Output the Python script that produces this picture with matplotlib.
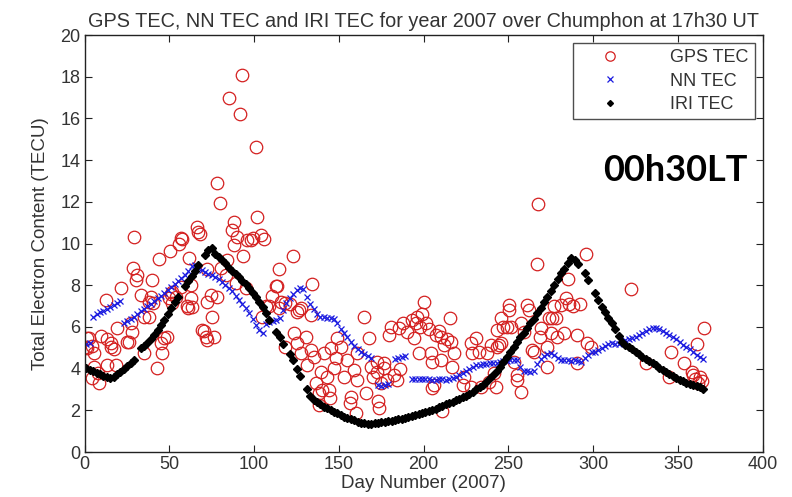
import numpy as np
import matplotlib
matplotlib.use("Agg")
import matplotlib.pyplot as plt

nan = np.nan

# GPS TEC (scattered daily values)
gps_day = [1.6, 0.6, 1.6, 2.6, 4.0, 5.5, 5.5, 4.5, 7.9, 8.5, 9.4, 12.4, 13.4, 13.4, 15.3, 15.3,
           17.3, 18.3, 19.3, 21.6, 25.2, 26.2, 27.1, 28.1, 28.5, 29.1, 30.1, 31.1,
           33.0, 35.0, 37.9, 37.9, 38.9, 39.9, 40.0, 42.9, 43.9, 44.8, 45.8, 46.8, 48.8,
           49.8, 50.3, 51.7, 51.7, 53.7, 55.7, 56.6, 56.6, 57.6, 35.0, 50.7, 60.6, 61.0,
           61.5, 62.5, 62.6, 63.5, 66.5, 66.9, 67.8, 69.4, 70.4, 71.4, 71.9, 72.4, 72.4,
           74.3, 75.3, 76.3, 77.9, 78.3, 79.8, 80.3, 83.2, 84.2, 86.7, 85.2, 88.1, 88.1,
           89.1, 90.1, 91.7, 92.6, 93.6, 95.0, 95.8, 97.9, 99.3, 100.9,
           101.9, 103.8, 105.8, 104.8, 106.8, 110.5, 112.7, 113.4, 114.6, 114.6, 118.3,
           118.4, 123.1, 123.5, 125.5, 125.5, 126.3, 127.4, 127.4, 130.4, 131.4, 133.3,
           133.6, 134.3, 135.2, 109.0, 116.0, 121.0,
           136.3, 138.5, 138.5, 139.2, 140.2, 141.2, 143.2, 144.2, 144.5, 145.1, 147.1,
           148.0, 149.0, 151.0, 153.0, 154.9, 156.4, 157.0, 158.9, 160.3, 160.8, 160.8,
           164.8, 165.7, 167.8, 168.7, 172.6, 172.6, 173.1, 173.7, 174.6, 176.5, 176.6,
           178.5, 179.6, 180.5, 182.5, 184.4, 185.4, 188.0, 190.3, 193.2, 195.2, 196.0,
           197.1, 198.1, 199.0, 200.2, 194.2, 170.0, 186.0,
           201.2, 203.0, 205.0, 205.1, 204.1, 206.1, 207.0, 209.0, 210.0, 210.0, 211.0,
           212.0, 213.5, 215.5, 216.0, 216.9, 217.9, 223.0, 223.7, 227.7, 227.7, 228.7,
           230.7, 232.6, 233.6, 237.5, 238.5, 239.5, 241.5, 242.4, 243.5, 243.5, 244.5,
           245.4, 245.4, 247.0, 249.0, 250.3, 250.3, 251.3, 253.3, 255.0, 255.2, 257.2,
           257.2, 259.2,
           261.1, 262.0, 264.1, 265.0, 266.7, 267.4, 268.9, 269.0, 272.9, 272.9, 273.9,
           275.9, 277.9, 274.9, 276.8, 278.9, 280.8, 282.8, 283.9, 285.0, 286.0, 288.0,
           290.7, 290.7, 292.0, 295.5, 296.6, 298.5,
           322.1, 330.9, 344.7, 345.7, 353.6, 358.5, 361.0, 360.0, 362.0, 363.0, 364.0,
           365.4, 359.0]
gps_tec = [4.97, 5.05, 5.45, 5.45, 5.10, 4.73, 4.09, 3.53, 3.77, 3.29, 5.57, 7.29, 5.40, 4.17, 5.21, 5.05,
           4.93, 4.17, 5.97, 7.85, 5.29, 5.29, 6.17, 5.77, 8.81, 10.30, 8.25, 8.49,
           7.53, 4.73, 7.21, 6.49, 7.45, 8.25, 7.13, 4.01, 9.24, 5.21, 4.73, 5.45, 5.53,
           7.37, 9.65, 7.69, 7.13, 7.45, 10.00, 10.25, 7.93, 10.20, 6.50, 7.60, 6.98, 6.89,
           9.29, 7.37, 8.00, 6.97, 10.80, 10.57, 10.45, 5.85, 5.80, 5.50, 5.37, 7.21, 8.80,
           7.53, 6.49, 5.53, 12.89, 7.45, 11.96, 8.81, 8.49, 9.21, 10.65, 16.96, 11.05, 9.93,
           8.09, 10.33, 16.21, 18.08, 9.40, 7.85, 10.17, 10.17, 10.25, 14.64,
           11.29, 10.40, 10.23, 6.50, 6.98, 7.46, 7.96, 7.94, 8.76, 6.90, 7.14,
           5.05, 9.40, 5.69, 6.73, 5.21, 6.82, 6.90, 4.73, 5.53, 4.17, 4.89,
           6.58, 8.06, 4.57, 7.00, 7.20, 7.10,
           3.29, 2.85, 2.24, 3.85, 2.97, 4.73, 3.61, 2.97, 2.60, 4.97, 4.01,
           4.49, 5.45, 5.05, 3.61, 4.41, 2.36, 2.62, 3.93, 1.87, 4.73, 3.45,
           6.49, 2.81, 5.45, 4.09, 4.33, 3.85, 2.43, 2.11, 3.29, 4.01, 4.25,
           3.45, 5.61, 6.00, 3.69, 3.45, 5.93, 6.20, 5.77, 6.33, 6.17, 6.50,
           4.73, 6.01, 6.60, 7.21, 5.45, 3.60, 4.00,
           6.17, 5.90, 3.06, 4.33, 4.73, 3.21, 5.60, 5.80, 5.53, 4.41, 1.95,
           5.13, 5.40, 6.41, 5.29, 4.09, 4.73, 3.20, 3.60, 3.10, 5.21, 4.73,
           5.45, 4.80, 3.13, 4.73, 3.37, 5.13, 3.77, 3.13, 5.85, 5.05, 5.13,
           6.41, 5.21, 6.00, 6.00, 7.05, 6.80, 6.00, 4.33, 3.70, 3.45, 6.17,
           2.89, 5.77,
           7.05, 6.80, 4.89, 4.80, 9.00, 11.90, 5.50, 5.97, 5.05, 4.10, 6.45,
           6.45, 6.45, 5.69, 7.00, 5.53, 7.05, 5.69, 7.40, 8.30, 7.10, 7.00,
           5.61, 4.25, 7.10, 9.50, 5.21, 5.05,
           7.80, 4.25, 3.61, 4.80, 4.25, 3.85, 5.18, 3.50, 3.30, 3.60, 3.40,
           5.96, 3.70]

# NN TEC and IRI TEC, every second day from day 1 to day 365 (nan = missing)
model_day = np.arange(1, 366, 2)
nn_tec = [5.20, 5.25, 6.50, 6.60, 6.70, 6.78, 6.85, 6.95, 7.05, 7.15,
          7.25, 6.20, 6.30, 6.40, 6.50, 6.62, 6.75, 6.88, 7.00, 7.12,
          7.25, 7.38, 7.50, 7.62, 7.75, 7.90, 8.05, 8.20, 8.35, 8.50,
          8.70, 8.92, 8.95, 8.85, 8.75, 8.65, 8.55, 8.50, 8.40, 8.28,
          8.15, 8.00, 7.85, 7.70, 7.50, 7.30, 7.10, 6.90, 6.65, 6.40,
          6.10, 5.85, 5.70, 6.15, 6.25, 6.30, 6.35, 6.45, 6.80, 7.15,
          7.40, 7.60, 7.75, 7.85, 7.80, 7.45, 7.10, 6.85, 6.60, 6.50,
          6.48, 6.45, 6.42, 6.40, 6.20, 5.90, 5.70, 5.50, 5.30, 5.10,
          4.95, 4.80, 4.70, 4.60, 4.50, nan, 3.20, 3.15, 3.20, 3.25,
          nan, 4.45, 4.50, 4.55, 4.60, nan, 3.50, 3.48, 3.52, 3.50,
          3.48, 3.50, 3.45, 3.47, 3.50, 3.48, 3.45, 3.50, 3.55, 3.60,
          3.70, 3.80, 3.90, 4.00, 4.10, 4.18, 4.15, 4.20, 4.22, 4.25,
          4.25, 4.28, 4.30, 4.35, 4.38, 4.40, 4.42, 4.40, 4.10, 3.90,
          3.88, 3.85, 3.90, 4.20, 4.48, 4.60, 4.72, 4.75, 4.65, 4.50,
          4.40, 4.42, 4.40, 4.38, 4.42, 4.35, 4.33, 4.50, 4.65, 4.78,
          4.82, 4.90, 5.00, 5.10, 5.20, 5.22, 5.18, 5.20, 5.28, 5.35,
          5.40, 5.45, 5.52, 5.60, 5.70, 5.80, 5.92, 5.96, 5.95, 5.90,
          5.80, 5.70, 5.60, 5.50, 5.40, 5.28, 5.15, 5.02, 4.92, 4.80,
          4.65, 4.55, 4.45]
iri_tec = [4.05, 3.95, 3.88, 3.80, 3.72, 3.65, 3.58, 3.53, 3.60, 3.72,
           3.85, 3.98, 4.12, 4.26, 4.40, nan, 4.98, 5.10, 5.25, 5.40,
           5.62, 5.85, 6.10, 6.35, 6.62, 6.90, 7.18, 7.45, nan, 7.95,
           8.20, 8.42, 8.70, 8.98, nan, 9.45, 9.70, 9.80, 9.50, 9.35,
           9.20, 9.05, 8.85, 8.70, 8.55, 8.40, 8.20, 8.05, 7.85, 7.65,
           7.45, 7.20, 6.95, 6.65, 6.35, nan, 5.75, 5.50, 5.20, nan,
           4.72, 4.40, 4.00, 3.65, nan, 3.00, 2.68, 2.50, 2.40, 2.28,
           2.18, 2.10, 2.00, 1.92, 1.85, 1.78, 1.70, 1.62, 1.57, 1.52,
           1.45, 1.40, 1.37, 1.35, 1.36, 1.38, 1.37, 1.42, 1.45, 1.48,
           1.50, 1.55, 1.57, 1.60, 1.63, 1.68, 1.72, 1.78, 1.82, 1.85,
           1.90, 1.95, 2.00, 2.08, 2.15, 2.20, 2.28, 2.33, 2.40, 2.48,
           2.56, 2.63, 2.70, 2.80, 2.90, 3.00, 3.10, 3.22, 3.38, 3.55,
           3.70, 3.88, 4.10, 4.32, 4.55, 4.80, 5.05, 5.28, 5.50, 5.72,
           5.95, 6.17, 6.40, 6.65, 6.90, 7.18, 7.45, 7.72, 8.00, 8.30,
           8.57, 8.80, 9.05, 9.30, 9.20, 9.00, nan, 8.60, 8.25, nan,
           7.65, 7.30, 6.95, 6.70, 6.45, 6.20, 5.90, 5.55, 5.30, 5.15,
           5.05, 4.92, 4.82, 4.70, 4.58, 4.45, 4.35, 4.25, 4.15, 4.05,
           3.95, 3.85, 3.75, 3.65, 3.55, 3.47, 3.40, 3.33, 3.27, 3.22,
           3.15, 3.10, 3.03]

plt.rcParams['font.family'] = ['Liberation Sans', 'DejaVu Sans']

fig = plt.figure(figsize=(7.92, 4.97), dpi=100)
ax = fig.add_axes([0.107, 0.0905, 0.856, 0.839])

ax.plot(gps_day, gps_tec, 'o', mfc='none', mec='#d42020', ms=9, mew=0.9, label='GPS TEC')
ax.plot(model_day, nn_tec, 'x', color='#1a1ae0', ms=5, mew=0.9, label='NN TEC')
ax.plot(model_day, iri_tec, 'D', color='black', ms=4.0, label='IRI TEC')

ax.set_xlim(0, 400)
ax.set_ylim(0, 20)
ax.set_xticks(np.arange(0, 401, 50))
ax.set_yticks(np.arange(0, 21, 2))
ax.tick_params(direction='in', top=True, right=True, length=5, labelsize=13, pad=3,
               colors='#222222', labelcolor='#333333')
for s in ax.spines.values():
    s.set_linewidth(1.0)
    s.set_color('#222222')

ax.set_xlabel('Day Number (2007)', fontsize=13.5, labelpad=1, color='#333333')
ax.set_ylabel('Total Electron Content (TECU)', fontsize=13.5, labelpad=8, color='#333333')
ax.set_title('GPS TEC, NN TEC and IRI TEC for year 2007 over Chumphon at 17h30 UT',
             fontsize=14.3, pad=6, color='#333333')

leg = ax.legend(loc='upper right', fontsize=13, frameon=True, fancybox=False,
                edgecolor='#222222', borderaxespad=0.45, handletextpad=1.6,
                handlelength=3.4, labelspacing=0.35, borderpad=0.35, markerscale=0.75)
leg.get_frame().set_linewidth(1.0)
for t in leg.get_texts():
    t.set_color('#333333')

ax.text(306, 13.5, '00h30LT', fontsize=26, fontweight='bold', family='Lato',
        ha='left', va='center')

fig.savefig('out.png', dpi=100)
